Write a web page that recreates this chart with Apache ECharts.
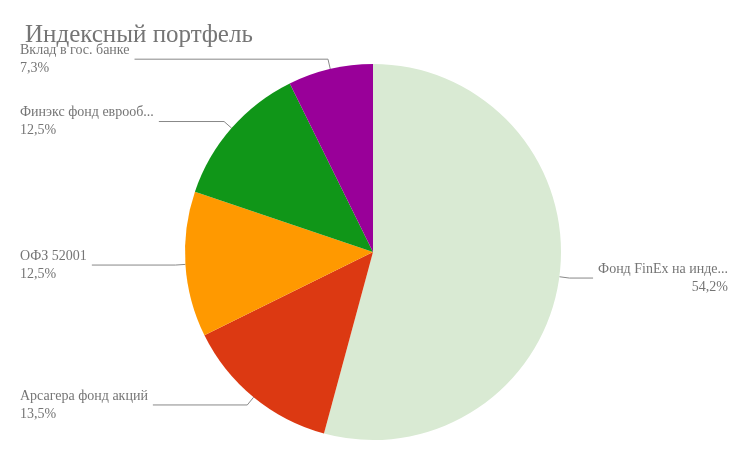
<!DOCTYPE html>
<html><head><meta charset="utf-8">
<script src="https://cdn.jsdelivr.net/npm/echarts@6/dist/echarts.min.js"></script>
<style>html,body{margin:0;padding:0;background:#fff}#c{width:748px;height:463px}</style>
</head><body><div id="c"></div>
<script>
const categories = ['Фонд FinEx на инде...', 'Арсагера фонд акций', 'ОФЗ 52001', 'Финэкс фонд еврооб...', 'Вклад в гос. банке'];
const values = [54.2, 13.5, 12.5, 12.5, 7.3];
const colors = ['#d9ead3', '#dc3912', '#ff9900', '#109618', '#990099'];
const chart = echarts.init(document.getElementById('c'));
const font = 'Liberation Serif, DejaVu Serif, serif';
chart.setOption({
  animation: false,
  title: { text: 'Индексный портфель', left: 20, top: 18,
    textStyle: { fontFamily: font, fontSize: 25, fontWeight: 'normal', color: '#757575' } },
  series: [{
    type: 'pie', center: [373, 252], radius: 188, startAngle: 90, clockwise: true,
    data: categories.map((n, i) => ({ name: n, value: values[i], itemStyle: { color: colors[i] } })),
    itemStyle: { borderColor: '#fff', borderWidth: 0 },
    label: {
      alignTo: 'edge', edgeDistance: 20, fontFamily: font, color: '#757575', fontSize: 14,
      formatter: p => p.name + '\n' + p.value.toFixed(1).replace('.', ',') + '%',
      lineHeight: 18
    },
    labelLine: { length: 10, length2: 10, lineStyle: { color: '#888', width: 1 } }
  }]
});
</script></body></html>
